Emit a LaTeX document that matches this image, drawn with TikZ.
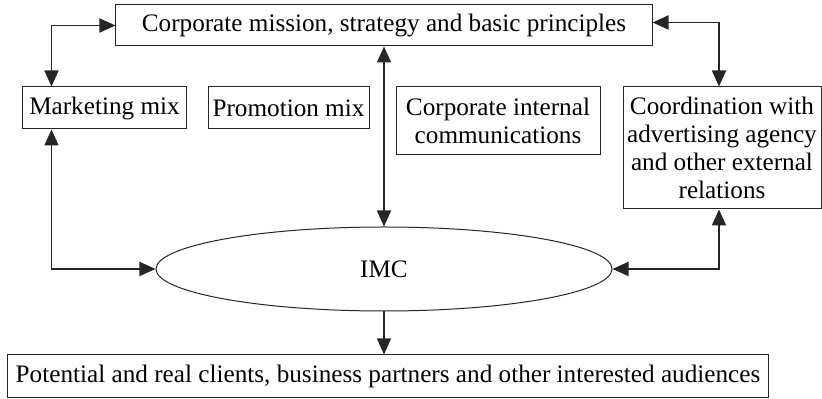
\documentclass[tikz,border=0pt]{standalone}
\usepackage{fontspec}
\setmainfont{Liberation Serif}
\usetikzlibrary{shapes.geometric,arrows.meta}

\begin{document}
\begin{tikzpicture}[
			node distance=40pt,
			base/.style={draw=black!85, line width=0.5pt, inner sep=0pt, align=center, font=\fontsize{12.6}{13.9}\selectfont},
			box/.style={base, minimum height=21pt},
			tallbox/.style={base},
			imcshape/.style={base, ellipse, minimum width=228pt, minimum height=42pt},
			link/.style={draw=black!85, line width=0.9pt, {Triangle[length=8pt,width=7pt]}-{Triangle[length=8pt,width=7pt]}},
			flow/.style={draw=black!85, line width=0.6pt, -{Triangle[length=8pt,width=7pt]}},
		]
		\useasboundingbox (-192pt,12.75pt) rectangle (219pt,-186.75pt);

		\node[box, minimum width=268pt, minimum height=20.5pt] (mission) {Corporate mission, strategy and basic principles};
		\node[box, minimum width=81.5pt, below of=mission, xshift=-139.75pt, yshift=-1.25pt] (mmix) {Marketing mix};
		\node[box, minimum width=80.5pt, right of=mmix, xshift=52pt] (pmix) {Promotion mix};
		\node[tallbox, minimum width=102pt, minimum height=34pt, right of=pmix, xshift=64.75pt, yshift=-6.5pt] (internal) {Corporate internal\\communications};
		\node[tallbox, minimum width=99pt, minimum height=61pt, right of=internal, xshift=72pt, yshift=-13.5pt] (coord) {Coordination with\\advertising agency\\and other external\\relations};
		\node[imcshape, below of=mission, yshift=-81.75pt] (imc) {IMC};
		\node[box, minimum width=380pt, minimum height=21.5pt, below of=imc, yshift=-13.75pt, xshift=2pt] (audience) {Potential and real clients, business partners and other interested audiences};

		\draw[link] (mission.west) -| ([xshift=14.5pt]mmix.north west);
		\draw[link] ([yshift=1.5pt]mission.east) -| ([xshift=-1.5pt]coord.north);
		\draw[link] ([xshift=14.5pt]mmix.south west) |- (imc.west);
		\draw[link] (imc.east) -| ([xshift=-1.5pt]coord.south);
		\draw[link] (mission.south) -- (imc.north);
		\draw[flow] (imc.south) -- (imc.south |- audience.north);

		\end{tikzpicture}
\end{document}
